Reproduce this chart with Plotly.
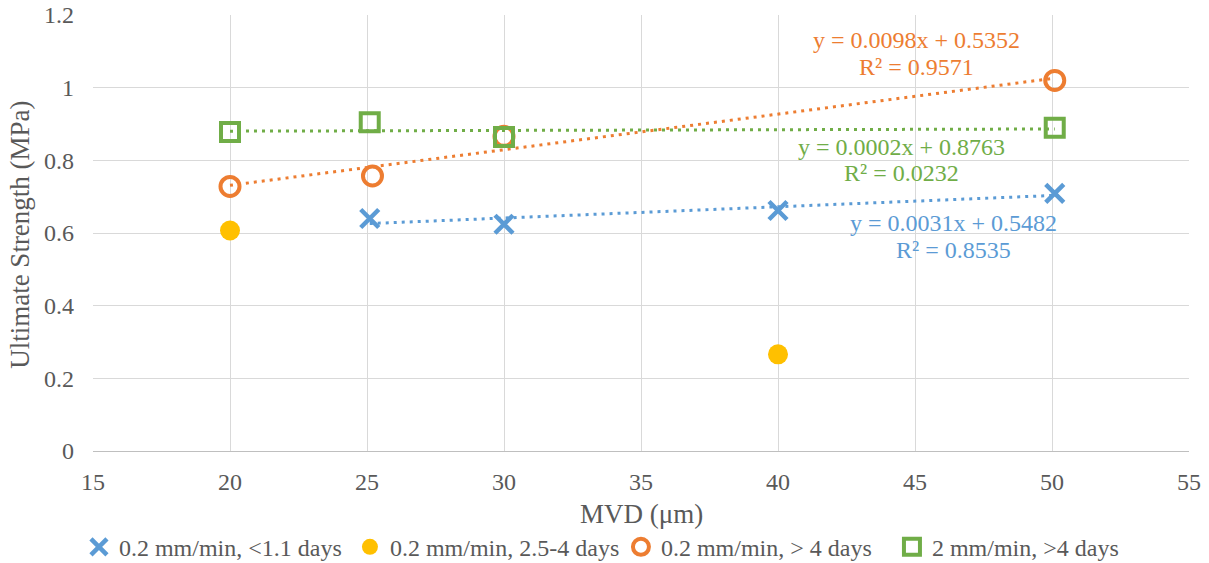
import plotly.graph_objects as go

# Data
blue_x = [25.1, 30.0, 40.0, 50.1]
blue_y = [0.640, 0.624, 0.662, 0.709]
yellow_x = [20.0, 40.0]
yellow_y = [0.607, 0.266]
orange_x = [20.0, 25.2, 30.0, 50.1]
orange_y = [0.728, 0.757, 0.866, 1.020]
green_x = [20.0, 25.1, 30.0, 50.1]
green_y = [0.878, 0.905, 0.864, 0.890]

names = ["0.2 mm/min, <1.1 days", "0.2 mm/min, 2.5-4 days",
         "0.2 mm/min, > 4 days", "2 mm/min, >4 days"]

# Trendline coefficients (slope, intercept, R²) as shown on chart
blue_fit = (0.0031, 0.5482, 0.8535)
orange_fit = (0.0098, 0.5352, 0.9571)
green_fit = (0.0002, 0.8763, 0.0232)

x_ticks = [15, 20, 25, 30, 35, 40, 45, 50, 55]
y_ticks = [0, 0.2, 0.4, 0.6, 0.8, 1, 1.2]
y_tick_text = ["0", "0.2", "0.4", "0.6", "0.8", "1", "1.2"]

BLUE = "#5B9BD5"
YELLOW = "#FFC000"
ORANGE = "#ED7D31"
GREEN = "#70AD47"
TXT = "#595959"
FONT = "Liberation Serif"

fig = go.Figure()

def trend(xs, fit, color):
    x0, x1 = min(xs), max(xs)
    fig.add_trace(go.Scatter(
        x=[x0, x1], y=[fit[0] * x0 + fit[1], fit[0] * x1 + fit[1]],
        mode="lines", line=dict(color=color, width=3, dash="3px,5px"),
        showlegend=False, hoverinfo="skip"))

trend(blue_x, blue_fit, BLUE)
trend(orange_x, orange_fit, ORANGE)
trend(green_x, green_fit, GREEN)

fig.add_trace(go.Scatter(x=blue_x, y=blue_y, mode="markers", name=names[0],
                         marker=dict(symbol="x-thin", size=18, color=BLUE,
                                     line=dict(color=BLUE, width=4.5))))
fig.add_trace(go.Scatter(x=yellow_x, y=yellow_y, mode="markers", name=names[1],
                         marker=dict(symbol="circle", size=20, color=YELLOW,
                                     line=dict(width=0))))
fig.add_trace(go.Scatter(x=orange_x, y=orange_y, mode="markers", name=names[2],
                         marker=dict(symbol="circle-open", size=19, color=ORANGE,
                                     line=dict(color=ORANGE, width=4))))
fig.add_trace(go.Scatter(x=green_x, y=green_y, mode="markers", name=names[3],
                         marker=dict(symbol="square-open", size=18, color=GREEN,
                                     line=dict(color=GREEN, width=4))))

# Trendline labels: (fit, colour, x centre, y of equation line, y of R² line)
for fit, color, ax, ay1, ay2 in [(orange_fit, ORANGE, 45.07, 1.131, 1.057),
                                 (green_fit, GREEN, 44.49, 0.837, 0.765),
                                 (blue_fit, BLUE, 46.4, 0.6275, 0.553)]:
    fig.add_annotation(x=ax, y=ay1, xref="x", yref="y",
                       text=f"y = {fit[0]:.4f}x + {fit[1]:.4f}",
                       showarrow=False, yanchor="middle",
                       font=dict(family=FONT, size=24, color=color))
    fig.add_annotation(x=ax, y=ay2, xref="x", yref="y",
                       text=f"R² = {fit[2]:.4f}",
                       showarrow=False, yanchor="middle",
                       font=dict(family=FONT, size=24, color=color))

# Axis titles
fig.add_annotation(x=0.5, y=-0.145, xref="paper", yref="paper", text="MVD (μm)",
                   showarrow=False, xanchor="center", yanchor="middle",
                   font=dict(family=FONT, size=27, color=TXT))
fig.add_annotation(x=-0.0665, y=0.496, xref="paper", yref="paper",
                   text="Ultimate Strength (MPa)", textangle=-90,
                   showarrow=False, xanchor="center", yanchor="middle",
                   font=dict(family=FONT, size=27, color=TXT))

fig.update_layout(
    width=1209, height=563,
    margin=dict(l=93, r=20, t=15, b=112),
    paper_bgcolor="white", plot_bgcolor="white",
    font=dict(family=FONT, size=24, color=TXT),
    legend=dict(orientation="h", xref="container", yref="container",
                x=0.0653, xanchor="left", y=0.028, yanchor="middle",
                font=dict(family=FONT, size=24, color=TXT), itemwidth=30,
                entrywidth=226, entrywidthmode="pixels"),
    showlegend=True,
)
fig.update_xaxes(range=[15, 55], tickvals=x_ticks, ticktext=[str(v) for v in x_ticks],
                 showgrid=True, gridcolor="#D9D9D9", gridwidth=1.3, zeroline=False,
                 showline=True, linecolor="#BFBFBF", linewidth=1.3, ticks="",
                 automargin=False, ticklabelstandoff=9,
                 tickfont=dict(family=FONT, size=24, color=TXT))
fig.update_yaxes(range=[0, 1.2], tickvals=y_ticks, ticktext=y_tick_text,
                 showgrid=True, gridcolor="#D9D9D9", gridwidth=1.3, zeroline=False,
                 showline=False, ticks="", automargin=False, ticklabelstandoff=18,
                 tickfont=dict(family=FONT, size=24, color=TXT))

fig.write_html("out.html", config={"displayModeBar": False},
               post_script="document.body.style.margin='0';document.body.style.overflow='hidden';")
